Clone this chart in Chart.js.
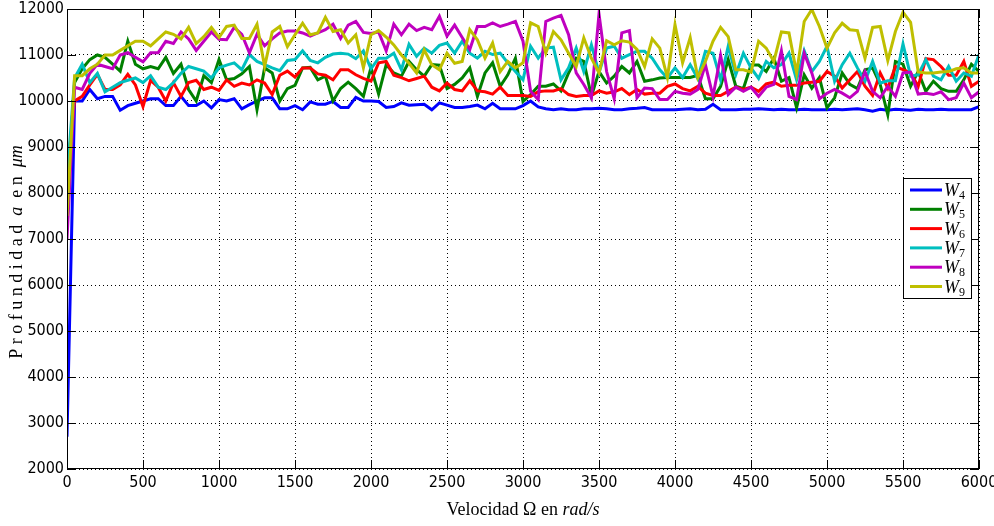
<!DOCTYPE html>
<html>
<head>
<meta charset="utf-8">
<script src="https://cdn.jsdelivr.net/npm/chart.js@4.4.1/dist/chart.umd.min.js"></script>
<style>
  html, body { margin: 0; padding: 0; background: #fff; }
  #wrap { width: 994px; height: 526px; }
</style>
</head>
<body>
<div id="wrap"><canvas id="grafico" width="994" height="526"></canvas></div>
<script>
// velocidad Omega (rad/s), paso de 50
const velocidades = Array.from({ length: 121 }, (_, i) => i * 50);

const w4 = [2700, 10000, 10000, 10250, 10050, 10100, 10100, 9800, 9900, 9950, 10000, 10050, 10050, 9900, 9900, 10100, 9900, 9900, 10000, 9850,
  10030, 10000, 10050, 9830, 9920, 10000, 10070, 10070, 9830, 9830, 9900, 9810, 9980, 9930, 9930, 9990, 9860, 9860, 10080, 10000,
  10000, 9990, 9860, 9880, 9960, 9910, 9920, 9930, 9810, 9960, 9910, 9860, 9860, 9880, 9910, 9830, 9950, 9830, 9830, 9830,
  9900, 10000, 9870, 9830, 9810, 9830, 9810, 9810, 9830, 9830, 9840, 9830, 9810, 9810, 9830, 9840, 9860, 9810, 9810, 9810,
  9810, 9820, 9830, 9810, 9820, 9930, 9810, 9810, 9810, 9820, 9820, 9830, 9820, 9810, 9820, 9810, 9810, 9820, 9810, 9810,
  9810, 9820, 9810, 9820, 9830, 9810, 9780, 9820, 9800, 9820, 9810, 9800, 9820, 9810, 9810, 9820, 9810, 9810, 9810, 9810, 9880];

const w5 = [7900, 10400, 10700, 10900, 11000, 10950, 10800, 10650, 11300, 10800, 10700, 10750, 10700, 10950, 10600, 10800, 10250, 10000, 10550, 10400,
  10900, 10460, 10490, 10590, 10750, 9810, 10720, 10610, 10000, 10270, 10340, 10720, 10730, 10460, 10540, 10000, 10270, 10410, 10270, 10100,
  10730, 10150, 10790, 10610, 10540, 10860, 10680, 10540, 10790, 10780, 10270, 10360, 10500, 10720, 10100, 10610, 10830, 10320, 10570, 10930,
  9990, 10140, 10320, 10320, 10370, 10220, 10610, 10930, 10860, 10100, 10640, 10390, 10540, 10750, 10610, 10860, 10430, 10460, 10500, 10510,
  10510, 10510, 10510, 10560, 10050, 10050, 10320, 10900, 10320, 10270, 10780, 10780, 10640, 10930, 10430, 10510, 9850, 10570, 10280, 10510,
  9850, 10070, 10610, 10360, 10270, 10680, 10720, 10360, 9700, 10860, 10800, 10320, 10640, 10210, 10430, 10270, 10210, 10210, 10460, 10800, 10640];

const w6 = [8400, 10000, 10100, 10350, 10580, 10250, 10250, 10350, 10580, 10350, 9880, 10450, 10300, 10000, 10400, 10100, 10400, 10450, 10250, 10300,
  10230, 10460, 10320, 10390, 10350, 10460, 10390, 10140, 10560, 10650, 10520, 10720, 10720, 10590, 10560, 10460, 10680, 10680, 10570, 10490,
  10430, 10830, 10860, 10560, 10510, 10440, 10490, 10540, 10300, 10220, 10390, 10250, 10220, 10440, 10220, 10200, 10150, 10300, 10120, 10120,
  10120, 10100, 10200, 10220, 10220, 10270, 10140, 10100, 10120, 10120, 10220, 10170, 10200, 10270, 10140, 10250, 10150, 10170, 10170, 10320,
  10370, 10270, 10220, 10320, 10170, 10120, 10120, 10210, 10300, 10250, 10300, 10210, 10370, 10410, 10320, 10340, 10340, 10390, 10410, 10430,
  10640, 10540, 10280, 10460, 10640, 10320, 10120, 10610, 10280, 10750, 10680, 10610, 10320, 10920, 10900, 10750, 10560, 10560, 10860, 10320, 10430];

const w7 = [8300, 10500, 10800, 10400, 10600, 10200, 10300, 10400, 10450, 10500, 10400, 10550, 10300, 10250, 10400, 10600, 10750, 10700, 10650, 10500,
  10720, 10780, 10830, 10680, 11010, 10860, 10790, 10720, 10660, 10880, 10900, 11090, 10880, 10830, 10950, 11020, 11040, 11020, 10920, 11090,
  10700, 10930, 10930, 11040, 10680, 11230, 10970, 11150, 11040, 11210, 11260, 11040, 11300, 11040, 10930, 11080, 11010, 11040, 10830, 10640,
  10460, 11190, 10930, 11150, 11170, 10460, 10720, 11150, 10640, 11220, 10610, 11150, 11190, 10930, 11010, 11080, 11080, 10930, 10680, 10500,
  10720, 10510, 10790, 10490, 11080, 11040, 10460, 11190, 10570, 11040, 10720, 10490, 10860, 10720, 10790, 11040, 10460, 11090, 10640, 10860,
  11190, 10430, 10790, 11040, 10720, 10430, 10860, 10390, 10440, 10440, 11240, 10540, 10570, 10900, 10540, 10460, 10750, 10430, 10610, 10540, 11010];

const w8 = [7000, 10300, 10250, 10600, 10800, 10750, 10700, 11000, 11050, 10950, 10850, 11050, 11050, 11300, 11250, 11500, 11350, 11100, 11300, 11500,
  11340, 11330, 11600, 11450, 11050, 11450, 11200, 11350, 11480, 11520, 11520, 11480, 11410, 11480, 11550, 11670, 11360, 11650, 11730, 11490,
  11470, 11500, 11090, 11670, 11440, 11670, 11530, 11600, 11550, 11840, 11410, 11650, 11380, 11120, 11620, 11620, 11700, 11620, 11670, 11730,
  11300, 10210, 10030, 11730, 11800, 11860, 11440, 10610, 10360, 10070, 11890, 10640, 10050, 11480, 11530, 10070, 10280, 10270, 10030, 10030,
  10210, 10170, 10150, 10250, 10790, 10100, 10990, 10140, 10300, 10210, 10300, 10100, 10300, 10360, 11090, 10100, 10030, 11040, 10610, 10050,
  10170, 10250, 10170, 10070, 10210, 10640, 10210, 10070, 10320, 10100, 10610, 10630, 10150, 10170, 10140, 10200, 10030, 10070, 10390, 10070, 10200];

const w9 = [7500, 10550, 10550, 10700, 10800, 11000, 11000, 11100, 11200, 11300, 11300, 11200, 11350, 11500, 11450, 11350, 11600, 11250, 11400, 11600,
  11380, 11620, 11650, 11360, 11360, 11670, 10750, 11500, 11620, 11180, 11440, 11690, 11440, 11480, 11820, 11510, 11550, 11260, 11440, 10720,
  11440, 11530, 11390, 11220, 11000, 10820, 10610, 11110, 10790, 10680, 11040, 10820, 10860, 11550, 11330, 10930, 11260, 10640, 10860, 10720,
  10830, 11700, 11620, 11040, 11510, 11330, 11040, 10750, 11370, 10930, 10610, 11310, 11220, 11310, 11280, 11120, 10750, 11350, 11150, 10510,
  11660, 10830, 11380, 10510, 10860, 11300, 11600, 11400, 10680, 10680, 10630, 11300, 11150, 10860, 11500, 11480, 10610, 11730, 11990, 11620,
  11150, 11480, 11690, 11550, 11530, 10930, 11600, 11620, 10880, 11510, 11930, 11710, 10630, 10610, 10610, 10630, 10640, 10700, 10720, 10610, 10610];

const etiquetas = ['4', '5', '6', '7', '8', '9'];
const colores = ['#0000ff', '#008000', '#ff0000', '#00bfbf', '#bf00bf', '#bfbf00'];
const series = [w4, w5, w6, w7, w8, w9];

const fuenteTicks = "'Liberation Sans Narrow', 'DejaVu Sans Condensed', 'Liberation Sans', Arial";
const serif = "'Liberation Serif', 'DejaVu Serif', serif";

// marco, marcas hacia dentro, leyenda y titulos (estilo MATLAB)
const matlabPlugin = {
  id: 'matlab',
  afterDraw(chart) {
    const { ctx, chartArea: a, scales } = chart;
    ctx.save();
    ctx.strokeStyle = '#000';
    ctx.lineWidth = 1;
    ctx.setLineDash([]);
    ctx.strokeRect(a.left + 0.5, a.top + 0.5, a.right - a.left - 1, a.bottom - a.top - 1);

    const largo = 9;
    ctx.beginPath();
    scales.x.ticks.forEach(t => {
      const px = Math.round(scales.x.getPixelForValue(t.value)) + 0.5;
      ctx.moveTo(px, a.bottom); ctx.lineTo(px, a.bottom - largo);
      ctx.moveTo(px, a.top); ctx.lineTo(px, a.top + largo);
    });
    scales.y.ticks.forEach(t => {
      const py = Math.round(scales.y.getPixelForValue(t.value)) + 0.5;
      ctx.moveTo(a.left, py); ctx.lineTo(a.left + largo, py);
      ctx.moveTo(a.right, py); ctx.lineTo(a.right - largo, py);
    });
    ctx.stroke();

    // leyenda
    const lx = 903, ly = 178, lw = 68, lh = 120;
    ctx.fillStyle = '#fff';
    ctx.fillRect(lx, ly, lw, lh);
    ctx.strokeRect(lx + 0.5, ly + 0.5, lw, lh);
    etiquetas.forEach((n, i) => {
      const y = ly + 12 + i * 19.3;
      ctx.strokeStyle = colores[i];
      ctx.lineWidth = 3;
      ctx.beginPath();
      ctx.moveTo(910, y); ctx.lineTo(942, y);
      ctx.stroke();
      ctx.fillStyle = '#000';
      ctx.textBaseline = 'alphabetic';
      ctx.textAlign = 'left';
      ctx.font = `italic 18px ${serif}`;
      ctx.fillText('W', 944, y + 6);
      const ww = ctx.measureText('W').width;
      ctx.font = `12px ${serif}`;
      ctx.fillText(n, 944 + ww, y + 9);
    });

    // titulo eje x
    dibujarPartes(ctx, [['Velocidad Ω en ', `18px ${serif}`], ['rad/s', `italic 18px ${serif}`]], (a.left + a.right) / 2, 515);

    // titulo eje y
    ctx.save();
    ctx.translate(22, 252);
    ctx.rotate(-Math.PI / 2);
    dibujarPartes(ctx, [['P r o f u n d i d a d  ', `18px ${serif}`], ['a', `italic 18px ${serif}`], ['  e n  ', `18px ${serif}`], ['μm', `italic 18px ${serif}`]], 0, 0);
    ctx.restore();
    ctx.restore();
  }
};

function dibujarPartes(ctx, partes, cx, base) {
  let total = 0;
  partes.forEach(([txt, f]) => { ctx.font = f; total += ctx.measureText(txt).width; });
  let x = cx - total / 2;
  ctx.fillStyle = '#000';
  ctx.textAlign = 'left';
  ctx.textBaseline = 'alphabetic';
  partes.forEach(([txt, f]) => {
    ctx.font = f;
    ctx.fillText(txt, x, base);
    x += ctx.measureText(txt).width;
  });
}

const datasets = series.map((s, i) => ({
  label: 'W' + etiquetas[i],
  data: velocidades.map((v, j) => ({ x: v, y: s[j] })),
  borderColor: colores[i],
  backgroundColor: colores[i],
  borderWidth: 3,
  pointRadius: 0,
  tension: 0,
  order: series.length - i
}));

new Chart(document.getElementById('grafico').getContext('2d'), {
  type: 'line',
  data: { datasets },
  options: {
    responsive: false,
    animation: false,
    devicePixelRatio: 1,
    layout: { padding: { left: 0, right: 0, top: 9, bottom: 0 } },
    plugins: { legend: { display: false }, tooltip: { enabled: false } },
    scales: {
      x: {
        type: 'linear',
        min: 0,
        max: 6000,
        afterFit: s => { s.height = 57; s.paddingLeft = 0; s.paddingRight = 15; },
        ticks: { stepSize: 500, color: '#000', font: { family: fuenteTicks, size: 16 }, padding: 4, maxRotation: 0, callback: v => String(v) },
        grid: { color: '#000', lineWidth: 1, drawTicks: false },
        border: { display: false, dash: [1, 3] }
      },
      y: {
        min: 2000,
        max: 12000,
        afterFit: s => { s.width = 67; s.paddingTop = 0; s.paddingBottom = 0; },
        ticks: { stepSize: 1000, color: '#000', font: { family: fuenteTicks, size: 16 }, padding: 3, callback: v => String(v) },
        grid: { color: '#000', lineWidth: 1, drawTicks: false },
        border: { display: false, dash: [1, 3] }
      }
    }
  },
  plugins: [matlabPlugin]
});
</script>
</body>
</html>
